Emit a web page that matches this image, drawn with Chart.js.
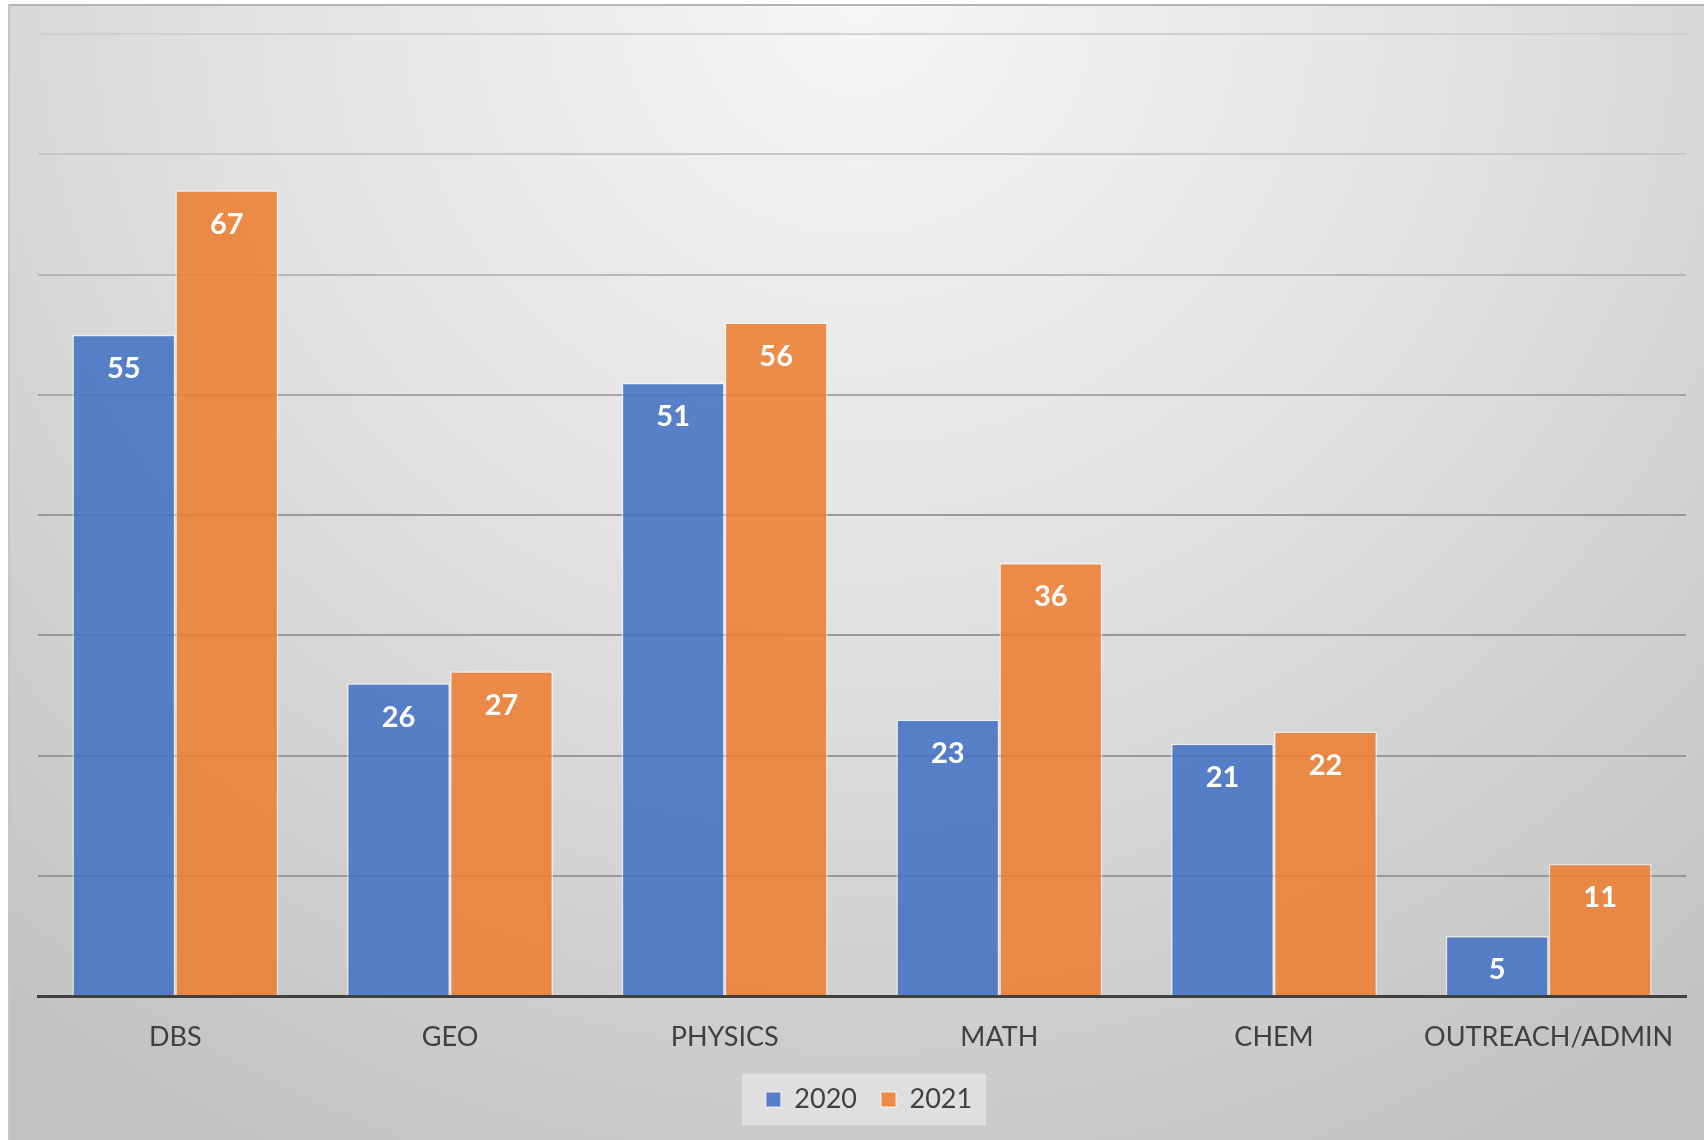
<!DOCTYPE html>
<html>
<head>
<meta charset="utf-8">
<script src="https://cdn.jsdelivr.net/npm/chart.js@4.4.1/dist/chart.umd.min.js"></script>
<style>
  html, body { margin: 0; padding: 0; background: #ffffff; }
  #panel {
    position: absolute; left: 8px; top: 4px; width: 1696px; height: 1136px;
    box-sizing: border-box;
    border-top: 2px solid #b4b4b4; border-left: 2px solid #c6c6c6;
    background: radial-gradient(ellipse 80% 115% at 50% 0%, #f6f6f6 0%, #e2e2e2 45%, #d0d0d0 75%, #c2c2c2 100%);
  }
  #wrap { position: absolute; left: 0; top: 0; width: 1704px; height: 1140px; }
</style>
</head>
<body>
<div id="panel"></div>
<div id="wrap"><canvas id="c" width="1704" height="1140"></canvas></div>
<script>
const categories = ["DBS", "GEO", "PHYSICS", "MATH", "CHEM", "OUTREACH/ADMIN"];
const seriesNames = ["2020", "2021"];
const values2020 = [55, 26, 51, 23, 21, 5];
const values2021 = [67, 27, 56, 36, 22, 11];
const yTicks = [0, 10, 20, 30, 40, 50, 60, 70, 80];

const FONT = "Lato, 'Open Sans', sans-serif";

const legendShift = {
  id: 'legendShift',
  afterLayout(chart) {
    const lg = chart.legend;
    if (lg) { lg.left += 7; lg.right += 7; }
  }
};

const legendBg = {
  id: 'legendBg',
  beforeDraw(chart) {
    const lg = chart.legend;
    if (!lg || !lg.legendHitBoxes || !lg.legendHitBoxes.length) return;
    const hb = lg.legendHitBoxes;
    let minX = Infinity, maxX = -Infinity, minY = Infinity, maxY = -Infinity;
    hb.forEach(b => { minX = Math.min(minX, b.left); maxX = Math.max(maxX, b.left + b.width); minY = Math.min(minY, b.top); maxY = Math.max(maxY, b.top + b.height); });
    const ctx = chart.ctx;
    ctx.save();
    ctx.fillStyle = 'rgba(230,230,230,0.75)';
    const cy = (minY + maxY) / 2;
    ctx.fillRect(minX - 24, cy - 26, (maxX - minX) + 38, 52);
    ctx.restore();
  }
};

const barLabels = {
  id: 'barLabels',
  afterDatasetsDraw(chart) {
    const ctx = chart.ctx;
    ctx.save();
    ctx.font = "bold 29px " + FONT;
    ctx.fillStyle = '#ffffff';
    ctx.textAlign = 'center';
    ctx.textBaseline = 'middle';
    chart.data.datasets.forEach((ds, i) => {
      const meta = chart.getDatasetMeta(i);
      meta.data.forEach((bar, j) => {
        ctx.fillText(String(ds.data[j]), bar.x, bar.y + 34);
      });
    });
    ctx.restore();
  }
};

function gridColor(ctx) {
  const v = ctx.tick ? ctx.tick.value : 0;
  if (v >= 80) return 'rgba(205,205,205,0.9)';
  if (v >= 70) return 'rgba(195,195,195,0.9)';
  if (v >= 60) return 'rgba(178,178,178,0.9)';
  if (v >= 50) return 'rgba(160,160,160,0.9)';
  return 'rgba(145,145,145,0.9)';
}

new Chart(document.getElementById('c'), {
  type: 'bar',
  data: {
    labels: categories,
    datasets: [
      { label: seriesNames[0], data: values2020, backgroundColor: 'rgba(68,114,196,0.88)', borderColor: 'rgba(255,255,255,0.55)', borderWidth: 1.5 },
      { label: seriesNames[1], data: values2021, backgroundColor: 'rgba(237,125,49,0.88)', borderColor: 'rgba(255,255,255,0.55)', borderWidth: 1.5 }
    ]
  },
  options: {
    responsive: false,
    animation: false,
    devicePixelRatio: 1,
    layout: { padding: { left: 38, right: 18, top: 34, bottom: 17 } },
    datasets: { bar: { categoryPercentage: 0.75, barPercentage: 1.0 } },
    scales: {
      x: {
        grid: { display: false, drawTicks: false },
        border: { display: true, color: '#404040', width: 3 },
        ticks: { color: '#404040', font: { family: FONT, size: 27, lineHeight: 1.2 }, padding: 25, maxRotation: 0, autoSkip: false },
        afterFit(axis) { axis.height = 66; }
      },
      y: {
        min: 0, max: 80,
        afterBuildTicks(axis) { axis.ticks = yTicks.map(v => ({ value: v })); },
        ticks: { display: false },
        grid: { color: gridColor, lineWidth: 2, drawTicks: false },
        border: { display: false }
      }
    },
    plugins: {
      legend: {
        position: 'bottom',
        labels: { color: '#404040', font: { family: FONT, size: 27 }, boxWidth: 15, boxHeight: 15, padding: 24 }
      },
      tooltip: { enabled: false },
      title: { display: false }
    }
  },
  plugins: [legendShift, legendBg, barLabels]
});
</script>
</body>
</html>
